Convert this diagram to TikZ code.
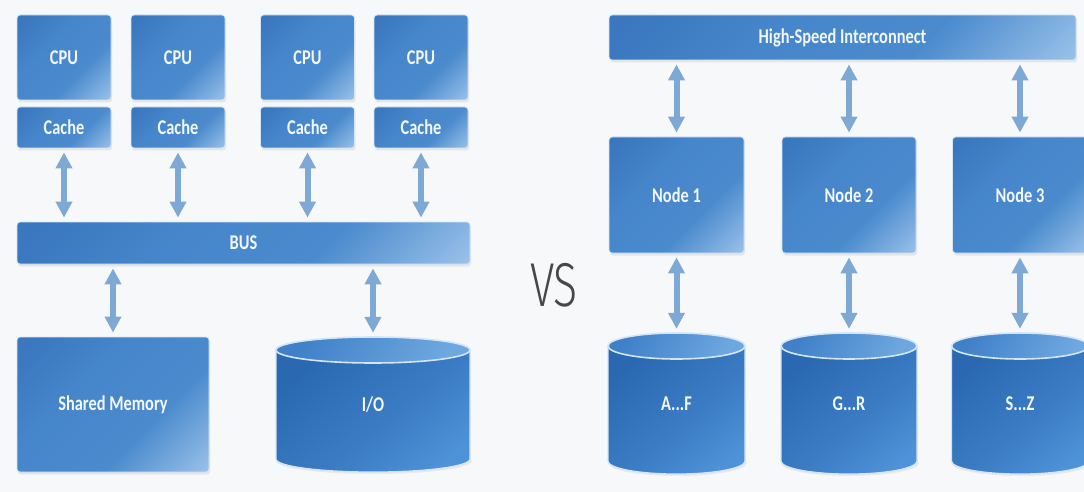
\documentclass[tikz,border=0pt]{standalone}
\usepackage{fontspec}
\setmainfont{Carlito}
\newfontfamily\boxfont{Carlito}[FakeStretch=0.78]
\newfontfamily\vsfont{Fira Sans Light}[FakeStretch=0.72]
\usetikzlibrary{arrows.meta,shadows}

\definecolor{paper}{HTML}{F6F8FA}
\definecolor{boxdark}{HTML}{3A77BE}
\definecolor{boxmid}{HTML}{4A8ACD}
\definecolor{boxlight}{HTML}{A3C8EC}
\definecolor{boxrim}{HTML}{D6E6F5}
\definecolor{boxtext}{HTML}{F2F7FC}
\definecolor{drumdark}{HTML}{2A69B2}
\definecolor{drumlight}{HTML}{4E92D8}
\definecolor{liddark}{HTML}{3F80C8}
\definecolor{lidlight}{HTML}{6FA8E0}
\definecolor{drumrim}{HTML}{D3E5F6}
\definecolor{linkblue}{HTML}{7FA9D5}
\definecolor{vsgray}{HTML}{474747}

\pgfdeclareverticalshading{panelshade}{100bp}{color(0bp)=(boxlight); color(12bp)=(boxlight);
  color(38bp)=(boxmid); color(62bp)=(boxmid!75!boxdark); color(82bp)=(boxdark); color(100bp)=(boxdark)}
\pgfdeclareverticalshading{drumshade}{100bp}{color(0bp)=(drumlight); color(22bp)=(drumlight);
  color(45bp)=(drumdark!55!drumlight); color(75bp)=(drumdark); color(100bp)=(drumdark)}

\tikzset{
  panel/.style={rectangle, rounded corners=3pt, draw=boxrim, line width=0.8pt,
    shading=panelshade, shading angle=45,
    drop shadow={shadow xshift=1pt, shadow yshift=-2.5pt, opacity=0.15},
    text=boxtext, font=\boxfont\bfseries\fontsize{21}{24}\selectfont, inner sep=0pt},
  drumlabel/.style={rectangle, inner sep=0pt, text=boxtext,
    font=\boxfont\bfseries\fontsize{21}{24}\selectfont},
  link/.style={draw=linkblue, line width=6pt,
    {Triangle[length=16pt,width=16pt]}-{Triangle[length=16pt,width=16pt]},
    shorten <=4pt, shorten >=4pt},
  vslabel/.style={text=vsgray, font=\vsfont\fontsize{62}{62}\selectfont, inner sep=0pt}
}

% #1 name, #2 centre x, #3 top, #4 bottom, #5 width, #6 text
\newcommand{\drum}[6]{%
  \fill[gray, opacity=0.12] ({#2+1},{#4-11}) ellipse[x radius=#5/2+1, y radius=13];
  \shade[shading=drumshade, shading angle=40, draw=drumrim, line width=1.2pt]
    ({#2-#5/2},{#3+13}) -- ({#2-#5/2},{#4-13})
    arc[start angle=180, end angle=0, x radius=#5/2, y radius=13]
    -- ({#2+#5/2},{#3+13}) -- cycle;
  \shade[top color=liddark, bottom color=lidlight, shading angle=60,
    draw=drumrim, line width=1.6pt]
    (#2,{#3+13}) ellipse[x radius=#5/2, y radius=13];
  \node[drumlabel, minimum width=#5, minimum height={#4-#3}] (#1) at (#2,{(#3+#4)/2}) {#6};
}

\begin{document}
\begin{tikzpicture}[x=1pt,y=-1pt]
\clip (0,0) rectangle (1084,492);
\fill[paper] (0,0) rectangle (1084,492);

% shared memory machine
\node[panel, minimum width=94, minimum height=85] (cpu1) at (64,57.5) {CPU};
\node[panel, minimum width=94, minimum height=85] (cpu2) at (178,57.5) {CPU};
\node[panel, minimum width=94, minimum height=85] (cpu3) at (307.5,57.5) {CPU};
\node[panel, minimum width=94, minimum height=85] (cpu4) at (421,57.5) {CPU};
\node[panel, minimum width=94, minimum height=41] (cache1) at (64,127.5) {Cache};
\node[panel, minimum width=94, minimum height=41] (cache2) at (178,127.5) {Cache};
\node[panel, minimum width=94, minimum height=41] (cache3) at (307.5,127.5) {Cache};
\node[panel, minimum width=94, minimum height=41] (cache4) at (421,127.5) {Cache};
\node[panel, minimum width=453, minimum height=42] (bus) at (243.5,243) {BUS};
\node[panel, minimum width=192, minimum height=135] (shmem) at (113,404.5) {Shared Memory};
\drum{io}{373}{337}{472}{194}{I/O}

\draw[link] (cache1.south) -- (cache1.south |- bus.north);
\draw[link] (cache2.south) -- (cache2.south |- bus.north);
\draw[link] (cache3.south) -- (cache3.south |- bus.north);
\draw[link] (cache4.south) -- (cache4.south |- bus.north);
\draw[link] (shmem.north |- bus.south) -- (shmem.north);
\draw[link] (io.north |- bus.south) -- (io.north);

\node[vslabel] (vs) at (554,285) {VS};

% shared nothing cluster
\node[panel, minimum width=467, minimum height=45] (hsi) at (842.5,37.5) {High-Speed Interconnect};
\node[panel, minimum width=135, minimum height=116] (node1) at (676.5,195) {Node 1};
\node[panel, minimum width=134, minimum height=116] (node2) at (849,195) {Node 2};
\node[panel, minimum width=135, minimum height=116] (node3) at (1020,195) {Node 3};
\drum{part1}{676.5}{333}{474}{137}{A...F}
\drum{part2}{849}{333}{474}{136}{G...R}
\drum{part3}{1020}{333}{474}{137}{S...Z}

\draw[link] (hsi.south -| node1.north) -- (node1.north);
\draw[link] (hsi.south -| node2.north) -- (node2.north);
\draw[link] (hsi.south -| node3.north) -- (node3.north);
\draw[link] (node1.south) -- (part1.north);
\draw[link] (node2.south) -- (part2.north);
\draw[link] (node3.south) -- (part3.north);
\end{tikzpicture}
\end{document}
